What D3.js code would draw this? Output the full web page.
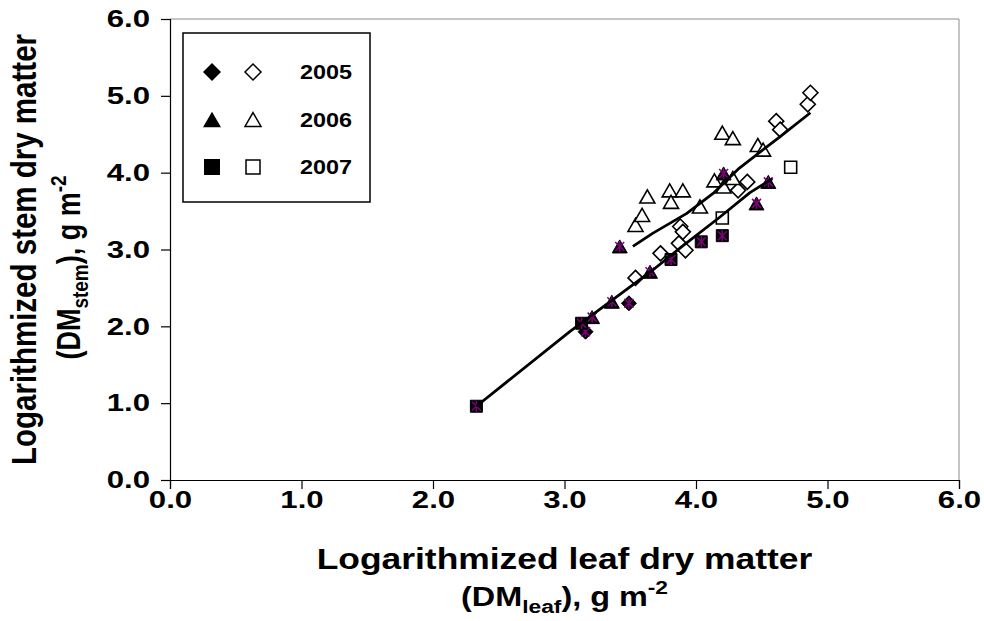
<!DOCTYPE html>
<html><head><meta charset="utf-8">
<script src="https://cdn.jsdelivr.net/npm/d3@7"></script>
<style>
body{margin:0;background:#fff}
text{font-family:"Liberation Sans",Arial,sans-serif;font-weight:bold;fill:#000}
</style>
</head><body>
<svg id="chart" width="984" height="621"></svg>
<script>
// ---- data ----
const xTicks = [0, 1, 2, 3, 4, 5, 6];
const yTicks = [0, 1, 2, 3, 4, 5, 6];
const legendYears = ["2005", "2006", "2007"];

// filled markers (black, with purple asterisk)
const filled2005 = [[3.16, 1.93], [3.49, 2.30]];
const filled2006 = [[3.21, 2.12], [3.36, 2.32], [3.65, 2.71], [3.42, 3.04], [4.21, 3.99], [4.46, 3.60], [4.55, 3.88]];
const filled2007 = [[2.33, 0.96], [3.13, 2.04], [3.81, 2.87], [4.04, 3.10], [4.20, 3.18]];

// open markers
const open2005 = [[3.54, 2.63], [3.73, 2.95], [3.87, 3.08], [3.92, 2.99], [3.88, 3.30], [3.90, 3.23], [4.32, 3.77], [4.39, 3.88], [4.61, 4.67], [4.64, 4.56], [4.85, 4.89], [4.87, 5.04]];
const open2006 = [[3.54, 3.32], [3.59, 3.45], [3.63, 3.69], [3.80, 3.77], [3.90, 3.77], [3.81, 3.62], [4.03, 3.56], [4.14, 3.90], [4.21, 3.82], [4.28, 3.93], [4.20, 4.52], [4.28, 4.45], [4.47, 4.36], [4.51, 4.30]];
const open2007 = [[4.20, 3.41], [4.72, 4.07]];

// trend lines
const lowerLine = [[2.33, 0.96], [3.04, 1.93], [3.67, 2.73], [3.88, 3.02], [4.18, 3.42], [4.41, 3.74], [4.58, 3.92]];
const upperLine = [[3.52, 3.04], [3.67, 3.21], [3.93, 3.47], [4.13, 3.73], [4.33, 4.06], [4.64, 4.47], [4.87, 4.78]];

// ---- chart ----
const svg = d3.select("#chart");
const L = 170, R = 959, T = 19, B = 480;
const SX = 1.2; // horizontal text stretch seen in the reference
const x = d3.scaleLinear().domain([0, 6]).range([L, R]);
const y = d3.scaleLinear().domain([0, 6]).range([B, T]);

// custom symbols (size = r^2)
const symDiamond = {draw(c, s){const r=Math.sqrt(s); c.moveTo(0,-r); c.lineTo(r,0); c.lineTo(0,r); c.lineTo(-r,0); c.closePath();}};
const symTriangle = {draw(c, s){const r=Math.sqrt(s); const h=r*0.87; c.moveTo(0,-h); c.lineTo(r,h); c.lineTo(-r,h); c.closePath();}};
const symSquare = {draw(c, s){const r=Math.sqrt(s); c.rect(-r,-r,2*r,2*r);}};

// plot frame: top/right grey
svg.append("line").attr("x1", L).attr("x2", R).attr("y1", T).attr("y2", T).attr("stroke", "#8c8c8c").attr("stroke-width", 1);
svg.append("line").attr("x1", R).attr("x2", R).attr("y1", T).attr("y2", B).attr("stroke", "#8c8c8c").attr("stroke-width", 1);

// axes
const tickFS = 24, tickSX = 1.3;
const xAxis = d3.axisBottom(x).tickValues(xTicks).tickSize(9).tickPadding(2).tickFormat(d3.format(".1f"));
const yAxis = d3.axisLeft(y).tickValues(yTicks).tickSize(9).tickPadding(11).tickFormat(d3.format(".1f"));
const gx = svg.append("g").attr("transform", `translate(0,${B})`).call(xAxis);
const gy = svg.append("g").attr("transform", `translate(${L},0)`).call(yAxis);
[gx, gy].forEach(g => {
  g.select(".domain").attr("stroke", "#000").attr("stroke-width", 1.2);
  g.selectAll(".tick line").attr("stroke", "#000").attr("stroke-width", 1.2);
  g.selectAll(".tick text").attr("font-size", tickFS).attr("font-family", "Liberation Sans, Arial, sans-serif")
    .attr("font-weight", "bold").attr("fill", "#000")
    .attr("x", function(){ return (+d3.select(this).attr("x") || 0) / tickSX; })
    .attr("transform", `scale(${tickSX},1)`);
});

// markers
function drawOpen(data, type, r){
  svg.append("g").selectAll("path").data(data).join("path")
    .attr("transform", d => `translate(${x(d[0])},${y(d[1])})`)
    .attr("d", d3.symbol().type(type).size(r*r))
    .attr("fill", "#fff").attr("stroke", "#000").attr("stroke-width", 1.6);
}
function drawFilled(data, type, r){
  const g = svg.append("g").selectAll("g").data(data).join("g")
    .attr("transform", d => `translate(${x(d[0])},${y(d[1])})`);
  g.append("path").attr("d", d3.symbol().type(type).size(r*r)).attr("fill", "#000").attr("stroke", "#000").attr("stroke-width", 1);
  const a = 4.5;
  g.append("path").attr("d", `M0,${-a-1}V${a+1}M${-a},${-a}L${a},${a}M${-a},${a}L${a},${-a}`)
    .attr("stroke", "#800080").attr("stroke-width", 1.5).attr("fill", "none");
}
drawOpen(open2005, symDiamond, 7.5);
drawOpen(open2006, symTriangle, 7.5);
drawOpen(open2007, symSquare, 6);
drawFilled(filled2005, symDiamond, 7.5);
drawFilled(filled2006, symTriangle, 7.5);
drawFilled(filled2007, symSquare, 6);

// trend lines
const line = d3.line().x(d => x(d[0])).y(d => y(d[1]));
[lowerLine, upperLine].forEach(d => svg.append("path").attr("d", line(d)).attr("fill", "none").attr("stroke", "#000").attr("stroke-width", 2.8).attr("stroke-linejoin", "round"));

// legend
const lg = svg.append("g");
lg.append("rect").attr("x", 183).attr("y", 33).attr("width", 187).attr("height", 169).attr("fill", "#fff").attr("stroke", "#000").attr("stroke-width", 1.5);
const legTypes = [symDiamond, symTriangle, symSquare];
const legR = [9, 9, 8];
legendYears.forEach((yr, i) => {
  const cy = 72 + i * 47.5;
  lg.append("path").attr("transform", `translate(212,${cy})`).attr("d", d3.symbol().type(legTypes[i]).size(legR[i]*legR[i])).attr("fill", "#000");
  lg.append("path").attr("transform", `translate(253,${cy})`).attr("d", d3.symbol().type(legTypes[i]).size((legR[i]-1)*(legR[i]-1))).attr("fill", "#fff").attr("stroke", "#000").attr("stroke-width", 1.5);
  lg.append("text").attr("transform", `translate(300,${cy + 7}) scale(${SX},1)`).attr("font-size", 19.5).text(yr);
});

// axis titles
const TFS = 29.5, T2FS = 27, SFS = 19;
const cx = (L + R) / 2;
svg.append("text").attr("transform", `translate(${cx},569) scale(${SX},1)`).attr("text-anchor", "middle").attr("font-size", TFS).text("Logarithmized leaf dry matter");
const xt2 = svg.append("text").attr("transform", `translate(${cx},606) scale(${SX},1)`).attr("text-anchor", "middle").attr("font-size", T2FS);
xt2.append("tspan").text("(DM");
xt2.append("tspan").attr("font-size", SFS).attr("dy", 7).text("leaf");
xt2.append("tspan").attr("dy", -7).text("), g m");
xt2.append("tspan").attr("font-size", SFS).attr("dy", -12).text("-2");

const cyT = (T + B) / 2;
svg.append("text").attr("transform", `translate(36,${cyT}) scale(${SX},1) rotate(-90)`).attr("text-anchor", "middle").attr("font-size", TFS).text("Logarithmized stem dry matter");
const yt2 = svg.append("text").attr("transform", `translate(80,${cyT + 18}) scale(${SX},1) rotate(-90)`).attr("text-anchor", "middle").attr("font-size", T2FS);
yt2.append("tspan").text("(DM");
yt2.append("tspan").attr("font-size", SFS).attr("dy", 7).text("stem");
yt2.append("tspan").attr("dy", -7).text("), g m");
yt2.append("tspan").attr("font-size", SFS).attr("dy", -12).text("-2");
</script>
</body></html>
